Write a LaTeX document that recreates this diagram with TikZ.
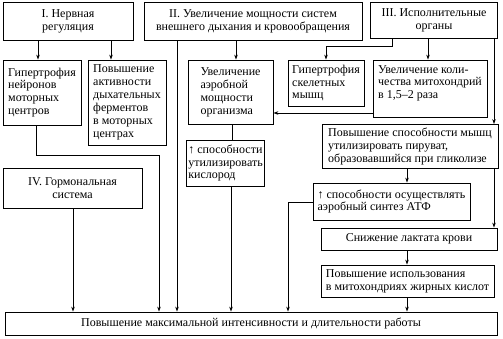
\documentclass[tikz,border=0pt]{standalone}
\usepackage{fontspec}
\setmainfont{Liberation Serif}
\usetikzlibrary{arrows.meta}
\begin{document}
\begin{tikzpicture}[x=1pt,y=-1pt,
  box/.style={draw, line width=0.8pt, inner xsep=1.5pt, inner ysep=2pt, font=\fontsize{12}{12.9}\selectfont, align=left},
  boxc/.style={box, align=center},
  arr/.style={-{Stealth[length=5pt,width=3.5pt]}, line width=0.7pt},
  ln/.style={line width=0.7pt}]
\useasboundingbox (0,0) rectangle (503,339);
\node[boxc, minimum width=130pt, minimum height=38pt] (a) at (68,21) {I. Нервная\\регуляция};
\node[boxc, minimum width=218pt, minimum height=38pt] (b) at (253,21) {II. Увеличение мощности систем\\внешнего дыхания и кровообращения};
\node[boxc, minimum width=127pt, minimum height=36pt] (c) at (434,20) {III. Исполнительные\\органы};
\node[box, minimum width=78pt, minimum height=65pt] (d) at (42,92.5) {Гипертрофия\\нейронов\\моторных\\центров};
\node[box, minimum width=78pt, minimum height=85pt] (e) at (127,102.5) {Повышение\\активности\\дыхательных\\ферментов\\в моторных\\центрах};
\node[box, minimum width=85pt, minimum height=64pt] (f) at (230.5,92) {Увеличение\\аэробной\\мощности\\организма};
\node[box, minimum width=76pt, minimum height=46pt] (g) at (326,83) {Гипертрофия\\скелетных\\мышц};
\node[box, minimum width=114pt, minimum height=57pt] (h) at (430,88.5) {Увеличение коли-\\чества митохондрий\\в 1,5–2 раза\\[0pt]\mbox{}};
\node[box, minimum width=75pt, minimum height=46pt] (i) at (225.5,163) {↑ способности\\утилизировать\\кислород};
\node[box, inner xsep=1pt, minimum width=176pt, minimum height=44pt] (j) at (410,146.5) {Повышение способности мышц\\утилизировать пируват,\\образовавшийся при гликолизе};
\node[boxc, minimum width=139pt, minimum height=40pt] (k) at (72.5,188) {IV. Гормональная\\система};
\node[box, minimum width=157pt, minimum height=37pt] (l) at (391.5,201.5) {↑ способности осуществлять\\аэробный синтез АТФ};
\node[boxc, minimum width=176pt, minimum height=22pt] (m) at (409,239) {Снижение лактата крови};
\node[box, minimum width=173pt, minimum height=32pt] (n) at (407.5,281) {Повышение использования\\в митохондриях жирных кислот};
\node[boxc, minimum width=492pt, minimum height=23pt] (o) at (251,323.5) {Повышение максимальной интенсивности и длительности работы};
\draw[arr] (38,0 |- a.south) -- (38,0 |- d.north);
\draw[arr] (111,0 |- a.south) -- (111,0 |- e.north);
\draw[arr] (36,0 |- d.south) -- (36,155) -- (159,155) -- (159,0 |- o.north);
\draw[arr] (177,0 |- b.south) -- (177,0 |- o.north);
\draw[arr] (236,0 |- b.south) -- (236,0 |- f.north);
\draw[ln] (232,0 |- f.south) -- (232,0 |- i.north);
\draw[arr] (231,0 |- i.south) -- (231,0 |- o.north);
\draw[arr] (l.west |- 0,202) -- (288,202) -- (288,0 |- o.north);
\draw[arr] (392,0 |- c.south) -- (392,46) -- (326,46) -- (326,0 |- g.north);
\draw[arr] (428,0 |- c.south) -- (428,0 |- h.north);
\draw[arr] (494,0 |- c.south) -- (494,0 |- j.north);
\draw[arr] (h.west |- 0,113) -- (f.east |- 0,113);
\draw[arr] (407,0 |- j.south) -- (407,0 |- l.north);
\draw[arr] (494,0 |- j.south) -- (494,0 |- m.north);
\draw[arr] (407,0 |- m.south) -- (407,0 |- n.north);
\draw[arr] (407,0 |- n.south) -- (407,0 |- o.north);
\draw[arr] (73,0 |- k.south) -- (73,0 |- o.north);
\end{tikzpicture}
\end{document}
